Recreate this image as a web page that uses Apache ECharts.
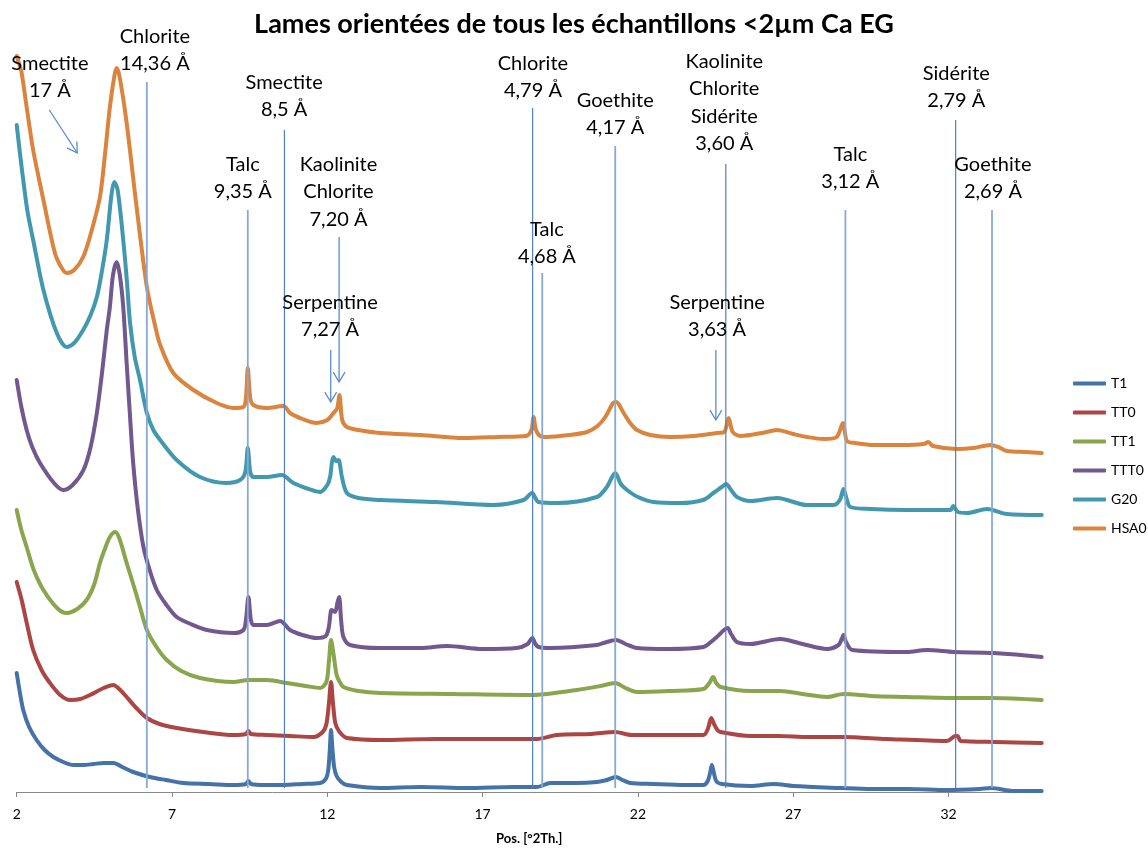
<!DOCTYPE html>
<html>
<head>
<meta charset="utf-8">
<title>Lames orientées de tous les échantillons &lt;2µm Ca EG</title>
<script src="https://cdn.jsdelivr.net/npm/echarts/dist/echarts.min.js"></script>
<style>
  html, body { margin: 0; padding: 0; background: #fff; }
  #chart { width: 1148px; height: 848px; }
</style>
</head>
<body>
<div id="chart"></div>
<script>
// Diffractograms, oriented slides <2 µm, Ca-saturated, ethylene glycol.
// Each pattern is a list of [position °2θ, intensity (offset, arbitrary units)].
const sampleNames = ['T1', 'TT0', 'TT1', 'TTT0', 'G20', 'HSA0'];

const T1 = [[2.0,119],[2.1,100],[2.21,82],[2.4,65],[2.64,52],[2.9,42],[3.18,35],[3.5,30],[3.82,27],[4.15,27],[4.47,28],[4.8,29],[5.11,29],[5.4,25],[5.75,20],[6.29,15],[6.8,12],[7.37,9],[8.2,8],[8.98,7],[9.38,8],[9.46,11],[9.54,8],[10.0,7],[10.59,7],[11.2,8],[11.77,9],[11.95,13],[12.03,22],[12.08,42],[12.12,62],[12.16,45],[12.22,25],[12.3,16],[12.45,10],[12.63,7],[13.7,4],[15.0,5],[16.5,4],[18.0,5],[18.75,5],[19.18,9],[20.0,9],[20.68,10],[21.0,12],[21.29,15],[21.5,12],[21.75,9],[22.5,8],[23.5,7],[24.11,7],[24.25,11],[24.33,20],[24.38,27],[24.44,20],[24.52,11],[24.7,8],[25.62,6],[26.37,8],[27.0,6],[28.52,4],[29.5,3],[30.7,3],[31.95,2],[33.0,3],[33.35,4],[34.1,1],[35.0,1]];

const TT0 = [[2.0,210],[2.16,192],[2.33,168],[2.53,142],[2.8,122],[3.07,109],[3.4,97],[3.72,92],[4.05,93],[4.36,97],[4.8,104],[5.11,107],[5.3,103],[5.54,95],[5.85,84],[6.19,74],[6.6,68],[7.15,64],[8.0,60],[8.98,57],[9.38,58],[9.46,61],[9.54,58],[10.05,57],[10.8,56],[11.55,55],[11.85,60],[11.97,68],[12.05,88],[12.12,110],[12.18,90],[12.24,72],[12.3,65],[12.45,58],[12.63,54],[13.7,52],[15.5,53],[17.0,53],[18.75,53],[19.39,57],[20.5,58],[21.27,60],[21.8,57],[23.0,57],[24.11,57],[24.25,63],[24.36,74],[24.45,68],[24.56,62],[24.66,60],[25.62,56],[26.5,56],[27.5,55],[28.62,55],[30.0,53],[31.95,51],[32.22,56],[32.29,56],[32.4,51],[33.5,50],[35.0,49]];

const TT1 = [[2.0,282],[2.15,262],[2.32,245],[2.55,222],[2.86,202],[3.3,184],[3.61,179],[3.95,183],[4.25,192],[4.5,208],[4.68,229],[4.85,244],[5.0,255],[5.17,260],[5.3,254],[5.54,229],[5.75,208],[5.97,185],[6.19,162],[6.5,145],[6.83,132],[7.3,121],[7.9,114],[8.98,110],[9.46,112],[10.05,112],[10.7,109],[11.3,106],[11.77,104],[11.97,110],[12.05,130],[12.12,152],[12.2,138],[12.3,117],[12.4,110],[12.52,105],[13.0,101],[13.7,99],[16.0,98],[18.53,97],[20.03,102],[20.8,106],[21.27,109],[21.6,104],[21.97,100],[23.0,101],[24.11,103],[24.3,109],[24.42,115],[24.52,109],[24.66,105],[25.62,101],[26.58,101],[27.3,98],[28.09,95],[28.62,98],[29.5,96],[30.66,95],[32.0,94],[33.4,94],[35.0,92]];

const TTT0 = [[2.0,412],[2.15,385],[2.32,362],[2.5,345],[2.75,329],[3.2,309],[3.5,302],[3.8,307],[4.15,322],[4.38,345],[4.58,379],[4.75,420],[4.9,462],[5.0,485],[5.1,517],[5.22,530],[5.32,517],[5.43,485],[5.54,429],[5.65,375],[5.75,329],[5.9,283],[6.08,245],[6.3,220],[6.51,202],[6.8,188],[7.15,175],[7.6,168],[8.12,162],[8.98,159],[9.3,162],[9.38,172],[9.46,195],[9.54,172],[9.62,167],[10.05,167],[10.48,171],[10.8,162],[11.2,157],[11.66,154],[11.95,156],[12.05,165],[12.14,182],[12.25,180],[12.33,190],[12.38,195],[12.45,170],[12.52,155],[12.73,147],[13.7,144],[15.0,144],[15.85,146],[17.0,143],[18.1,144],[18.45,148],[18.6,154],[18.7,148],[18.8,145],[19.2,144],[20.68,147],[21.0,150],[21.3,152],[21.6,148],[21.97,144],[23.0,143],[24.11,145],[24.35,150],[24.54,155],[24.89,164],[25.0,158],[25.19,150],[25.62,148],[26.58,153],[27.3,148],[28.09,143],[28.46,147],[28.56,153],[28.62,157],[28.7,150],[28.9,142],[30.66,140],[31.3,142],[32.16,140],[33.45,139],[35.0,135]];

const G20 = [[2.0,667],[2.1,640],[2.21,612],[2.35,580],[2.53,552],[2.86,502],[3.29,459],[3.61,445],[3.85,449],[4.14,462],[4.38,477],[4.58,495],[4.75,522],[4.9,552],[5.05,597],[5.14,610],[5.25,602],[5.43,552],[5.55,510],[5.65,469],[5.8,435],[5.97,412],[6.19,379],[6.4,362],[6.62,352],[7.15,332],[7.9,315],[8.76,309],[9.19,312],[9.36,320],[9.44,344],[9.52,320],[9.62,315],[10.05,315],[10.53,317],[10.91,309],[11.4,303],[11.77,300],[12.0,307],[12.09,315],[12.15,330],[12.2,335],[12.28,331],[12.36,332],[12.47,315],[12.63,299],[13.0,294],[13.7,292],[15.5,290],[17.35,287],[18.32,292],[18.59,299],[18.8,290],[19.39,289],[20.68,295],[21.0,305],[21.27,319],[21.45,308],[21.65,302],[22.0,295],[22.5,290],[23.36,289],[24.1,292],[24.43,299],[24.7,305],[24.84,308],[25.0,302],[25.19,295],[25.62,291],[26.48,294],[27.44,287],[28.3,287],[28.5,292],[28.62,303],[28.72,293],[28.84,285],[29.5,283],[30.66,282],[32.06,282],[32.15,286],[32.3,280],[32.6,279],[33.24,283],[33.88,278],[35.0,277]];

const HSA0 = [[2.0,736],[2.08,728],[2.16,719],[2.32,685],[2.53,642],[2.86,592],[3.23,539],[3.45,524],[3.61,519],[3.85,522],[4.14,535],[4.4,560],[4.68,595],[4.85,640],[5.0,685],[5.15,717],[5.22,724],[5.32,714],[5.54,669],[5.86,585],[6.19,505],[6.45,467],[6.62,447],[7.04,419],[7.69,402],[8.44,389],[8.98,384],[9.3,385],[9.38,394],[9.44,424],[9.52,394],[9.62,387],[10.05,384],[10.59,386],[10.8,379],[11.2,373],[11.66,369],[12.0,372],[12.2,379],[12.32,384],[12.39,397],[12.48,372],[12.63,365],[13.0,362],[13.7,359],[15.0,357],[16.38,354],[17.5,355],[18.4,356],[18.57,362],[18.64,375],[18.72,362],[18.85,356],[19.07,355],[19.8,357],[20.36,360],[20.7,366],[20.95,375],[21.2,389],[21.3,390],[21.54,379],[21.75,369],[21.97,362],[22.4,357],[23.04,355],[23.8,356],[24.54,359],[24.78,360],[24.92,374],[25.05,360],[25.3,356],[26.0,359],[26.48,362],[27.0,358],[27.44,355],[28.0,353],[28.4,355],[28.6,369],[28.73,351],[29.0,349],[29.59,347],[30.5,347],[31.2,348],[31.35,350],[31.5,346],[32.27,343],[32.8,344],[33.35,347],[33.6,345],[33.88,341],[34.5,340],[35.0,339]];

const patterns = [T1, TT0, TT1, TTT0, G20, HSA0];

// Reference reflections: [position °2θ, top of the marker line]
const refLines = [[6.19,710],[9.44,582],[10.62,662],[18.61,684],[18.92,519],[21.27,646],[24.83,628],[28.68,582],[32.23,672],[33.40,582]];
const strongRefLines = [10.62, 18.61, 24.83, 32.23];
const lineFloor = 4;

// Pointers: [x from, y from, x to, y to]
const pointers = [[3.05,682,3.95,639],[12.11,442,12.11,390],[12.38,555,12.38,410],[24.51,442,24.51,372]];

// Mineral labels: [centre °2θ, top of text block, text]
const mineralLabels = [
  [3.07, 742, 'Smectite\n17 Å'],
  [6.45, 769, 'Chlorite\n14,36 Å'],
  [10.61, 723, 'Smectite\n8,5 Å'],
  [9.28, 641, 'Talc\n9,35 Å'],
  [12.36, 641, 'Kaolinite\nChlorite\n7,20 Å'],
  [12.09, 503, 'Serpentine\n7,27 Å'],
  [18.62, 742, 'Chlorite\n4,79 Å'],
  [21.27, 705, 'Goethite\n4,17 Å'],
  [24.78, 744, 'Kaolinite\nChlorite\nSidérite\n3,60 Å'],
  [19.07, 576, 'Talc\n4,68 Å'],
  [24.55, 503, 'Serpentine\n3,63 Å'],
  [28.84, 651, 'Talc\n3,12 Å'],
  [32.25, 732, 'Sidérite\n2,79 Å'],
  [33.43, 641, 'Goethite\n2,69 Å']
];

const xTicks = { min: 2, max: 35, step: 5 };

const palette = ['#4572A7', '#AA4643', '#89A54E', '#71588F', '#4198AF', '#DB843D'];
const FONT = 'Lato, "Noto Sans", sans-serif';

const chart = echarts.init(document.getElementById('chart'), null, { renderer: 'canvas' });

const lineSeries = sampleNames.map((name, i) => ({
  name,
  type: 'line',
  data: patterns[i],
  symbol: 'none',
  smooth: 0.3,
  lineStyle: { width: 4, color: palette[i], cap: 'round', join: 'round' },
  itemStyle: { color: palette[i] },
  z: 2 + i,
  animation: false
}));

const refSeries = {
  type: 'custom',
  coordinateSystem: 'cartesian2d',
  silent: true,
  z: 20,
  animation: false,
  data: refLines,
  renderItem: (params, api) => {
    const x = api.value(0);
    const top = api.coord([x, api.value(1)]);
    const bottom = api.coord([x, lineFloor]);
    const strong = strongRefLines.indexOf(x) >= 0;
    return {
      type: 'line',
      shape: { x1: top[0], y1: top[1], x2: bottom[0], y2: bottom[1] },
      style: { stroke: strong ? '#4F7FC6' : '#86A9DA', lineWidth: strong ? 1.2 : 1.8 }
    };
  }
};

const pointerSeries = {
  type: 'custom',
  coordinateSystem: 'cartesian2d',
  silent: true,
  z: 21,
  animation: false,
  data: pointers,
  renderItem: (params, api) => {
    const a = api.coord([api.value(0), api.value(1)]);
    const b = api.coord([api.value(2), api.value(3)]);
    const ang = Math.atan2(b[1] - a[1], b[0] - a[0]);
    const len = 11.5, spread = 0.54;
    const p1 = [b[0] - len * Math.cos(ang - spread), b[1] - len * Math.sin(ang - spread)];
    const p2 = [b[0] - len * Math.cos(ang + spread), b[1] - len * Math.sin(ang + spread)];
    const stroke = '#5B8BD0';
    return {
      type: 'group',
      children: [
        { type: 'line', shape: { x1: a[0], y1: a[1], x2: b[0], y2: b[1] }, style: { stroke, lineWidth: 1.3 } },
        { type: 'polyline', shape: { points: [p1, b, p2] }, style: { stroke, lineWidth: 1.3, fill: null } }
      ]
    };
  }
};

const labelSeries = {
  type: 'custom',
  coordinateSystem: 'cartesian2d',
  silent: true,
  z: 22,
  animation: false,
  data: mineralLabels.map(m => [m[0], m[1]]),
  renderItem: (params, api) => {
    const p = api.coord([api.value(0), api.value(1)]);
    return {
      type: 'text',
      x: p[0],
      y: p[1],
      style: {
        text: mineralLabels[params.dataIndex][2],
        fill: '#000',
        fontFamily: FONT,
        fontSize: 20,
        lineHeight: 27.3,
        align: 'center',
        verticalAlign: 'top'
      }
    };
  }
};

chart.setOption({
  animation: false,
  backgroundColor: '#fff',
  title: {
    text: 'Lames orientées de tous les échantillons <2µm Ca EG',
    left: 'center',
    top: 11,
    padding: 0,
    textStyle: { fontFamily: FONT, fontWeight: 'bold', fontSize: 27, color: '#000' }
  },
  legend: {
    data: sampleNames,
    orient: 'vertical',
    left: 1073,
    top: 375,
    padding: 0,
    icon: 'roundRect',
    itemWidth: 33,
    itemHeight: 4,
    itemGap: 12,
    textStyle: { fontFamily: FONT, fontSize: 14, color: '#000', lineHeight: 17 }
  },
  grid: { left: 16.7, right: 106.3, top: 42, bottom: 56, containLabel: false, outerBoundsMode: 'none' },
  xAxis: {
    type: 'value',
    min: xTicks.min,
    max: xTicks.max,
    interval: xTicks.step,
    name: 'Pos. [°2Th.]',
    nameLocation: 'middle',
    nameGap: 40,
    nameTextStyle: { fontFamily: FONT, fontWeight: 'bold', fontSize: 13, color: '#000' },
    axisLine: { show: true, lineStyle: { color: '#888', width: 1 } },
    axisTick: { show: true, length: 5, lineStyle: { color: '#888' } },
    axisLabel: { fontFamily: FONT, fontSize: 14, color: '#000', margin: 15, showMaxLabel: false },
    splitLine: { show: false }
  },
  yAxis: {
    type: 'value',
    min: 0,
    max: 750,
    show: false,
    splitLine: { show: false }
  },
  series: [...lineSeries, refSeries, pointerSeries, labelSeries]
});
</script>
</body>
</html>
